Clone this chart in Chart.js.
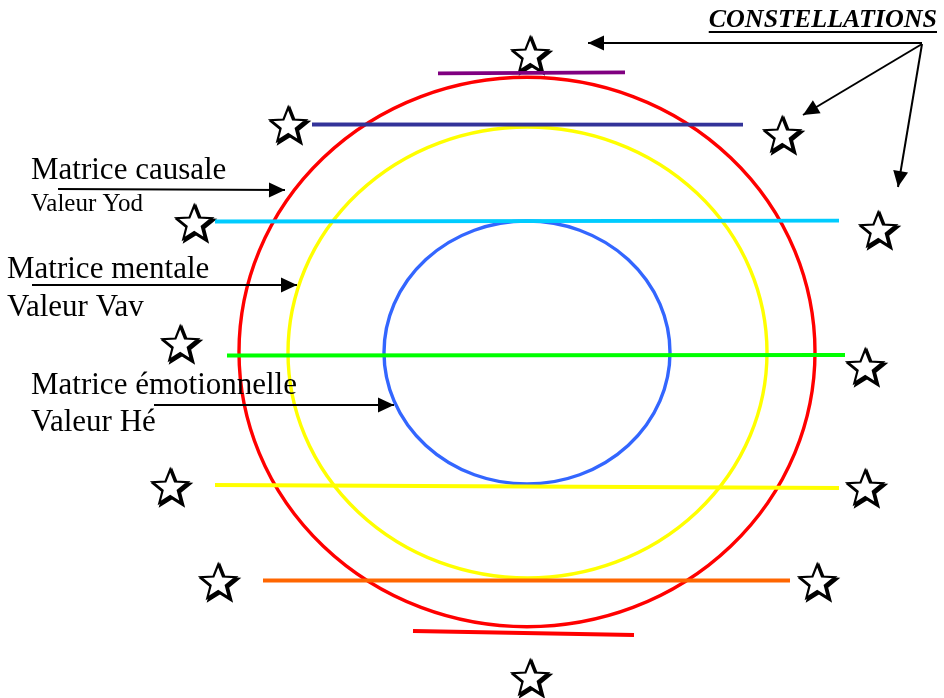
<!DOCTYPE html>
<html>
<head>
<meta charset="utf-8">
<script src="https://cdn.jsdelivr.net/npm/chart.js@4"></script>
<style>
html,body{margin:0;padding:0;background:#fff;}
#wrap{width:944px;height:698px;}
</style>
</head>
<body>
<div id="wrap"><canvas id="c" width="944" height="698"></canvas></div>
<script>
// ---- Diagram data (coordinates in diagram units, 0..944 x 0..698) ----
// Ellipses (matrices): centre x, centre y, radius x, radius y
const ringNames = ['Matrice causale', 'Matrice mentale', 'Matrice émotionnelle'];
const ringCX = [527, 527.5, 527];
const ringCY = [352, 352.5, 352.5];
const ringRX = [288, 239.5, 143];
const ringRY = [274.7, 225.5, 131.5];

// Horizontal coloured levels: start and end points
const levelX1 = [438, 312, 215, 227, 215, 263, 413];
const levelY1 = [73.3, 124.5, 221.5, 355.5, 485, 580.5, 631];
const levelX2 = [625, 743, 839, 845, 839, 790, 634];
const levelY2 = [72.3, 124.7, 220.7, 355, 488, 580.5, 635];

// Stars (constellations)
const starX = [531, 289, 783, 195, 879, 181, 866, 171, 866, 219, 818, 531];
const starY = [55, 125, 135, 223, 230, 344, 367, 487, 488, 582, 582, 678];

// Arrows: from -> to (arrowhead at "to")
const arrowX1 = [922, 922, 922, 58, 32, 154];
const arrowY1 = [43, 44, 44, 189, 285, 405];
const arrowX2 = [588, 803, 898, 285, 297, 394];
const arrowY2 = [43, 115, 187, 190, 285, 405];

// Text labels
const labelTexts = ['Matrice causale', 'Valeur Yod', 'Matrice mentale', 'Valeur Vav', 'Matrice émotionnelle', 'Valeur Hé'];
const labelX = [31, 31, 7, 7, 31, 31];
const labelY = [179, 211, 278, 316, 394, 431];
const titleText = 'CONSTELLATIONS';
const titleX = 937;
const titleY = 27;

// ---- Styles ----
const ringColors = ['#ff0000', '#ffff00', '#3366ff'];
const levelColors = ['#800080', '#333399', '#00ccff', '#00ff00', '#ffff00', '#ff6600', '#ff0000'];
const labelSizes = [31, 25, 31, 31, 31, 31];
const SERIF = '"Liberation Serif", "Times New Roman", serif';

// Star point style image
function makeStar() {
  const s = 50;
  const cv = document.createElement('canvas');
  cv.width = s; cv.height = s;
  const g = cv.getContext('2d');
  const R = 18.4, r = 8.0;
  const cx = s / 2 - 0.8, cy = s / 2 + 0.0955 * R - 0.8;
  function path(ox, oy) {
    g.beginPath();
    for (let i = 0; i < 10; i++) {
      const rad = i % 2 === 0 ? R : r;
      const a = -Math.PI / 2 + i * Math.PI / 5;
      const px = cx + ox + rad * Math.cos(a);
      const py = cy + oy + rad * Math.sin(a);
      if (i === 0) g.moveTo(px, py); else g.lineTo(px, py);
    }
    g.closePath();
  }
  g.lineJoin = 'miter';
  path(1.7, 1.7);
  g.lineWidth = 3.0; g.strokeStyle = '#000'; g.stroke();
  g.fillStyle = '#000'; g.fill();
  path(0, 0);
  g.fillStyle = '#fff'; g.fill();
  g.lineWidth = 2.2; g.strokeStyle = '#000'; g.stroke();
  return cv;
}
const starImg = makeStar();

const datasets = [];
levelX1.forEach((x, i) => {
  datasets.push({
    data: [{x: levelX1[i], y: levelY1[i]}, {x: levelX2[i], y: levelY2[i]}],
    showLine: true, borderColor: levelColors[i], borderWidth: 3.8,
    pointRadius: 0, borderCapStyle: 'butt', kind: 'level'
  });
});
arrowX1.forEach((x, i) => {
  datasets.push({
    data: [{x: arrowX1[i], y: arrowY1[i]}, {x: arrowX2[i], y: arrowY2[i]}],
    showLine: true, borderColor: '#000', borderWidth: 2,
    pointRadius: 0, kind: 'arrow'
  });
});
datasets.push({
  data: starX.map((x, i) => ({x: x, y: starY[i]})),
  showLine: false, pointStyle: starImg, pointRadius: 18, kind: 'star'
});

const ringPlugin = {
  id: 'rings',
  beforeDatasetsDraw(chart) {
    const {ctx, scales: {x, y}} = chart;
    ctx.save();
    ringCX.forEach((cx, i) => {
      const px = x.getPixelForValue(cx), py = y.getPixelForValue(ringCY[i]);
      const rx = Math.abs(x.getPixelForValue(cx + ringRX[i]) - px);
      const ry = Math.abs(y.getPixelForValue(ringCY[i] + ringRY[i]) - py);
      ctx.beginPath();
      ctx.ellipse(px, py, rx, ry, 0, 0, Math.PI * 2);
      ctx.strokeStyle = ringColors[i];
      ctx.lineWidth = 3.4;
      ctx.stroke();
    });
    ctx.restore();
  }
};

const arrowPlugin = {
  id: 'arrowheads',
  afterDatasetsDraw(chart) {
    const {ctx, scales: {x, y}} = chart;
    ctx.save();
    ctx.fillStyle = '#000';
    arrowX1.forEach((_, i) => {
      const x1 = x.getPixelForValue(arrowX1[i]), y1 = y.getPixelForValue(arrowY1[i]);
      const x2 = x.getPixelForValue(arrowX2[i]), y2 = y.getPixelForValue(arrowY2[i]);
      const a = Math.atan2(y2 - y1, x2 - x1);
      const L = 16, Wd = 7.5;
      ctx.beginPath();
      ctx.moveTo(x2, y2);
      ctx.lineTo(x2 - L * Math.cos(a) + Wd * Math.sin(a), y2 - L * Math.sin(a) - Wd * Math.cos(a));
      ctx.lineTo(x2 - L * Math.cos(a) - Wd * Math.sin(a), y2 - L * Math.sin(a) + Wd * Math.cos(a));
      ctx.closePath();
      ctx.fill();
    });
    ctx.restore();
  }
};

const textPlugin = {
  id: 'texts',
  afterDraw(chart) {
    const {ctx, scales: {x, y}} = chart;
    ctx.save();
    ctx.fillStyle = '#000';
    ctx.textBaseline = 'alphabetic';
    ctx.textAlign = 'left';
    labelTexts.forEach((t, i) => {
      ctx.font = labelSizes[i] + 'px ' + SERIF;
      ctx.fillText(t, x.getPixelForValue(labelX[i]), y.getPixelForValue(labelY[i]));
    });
    ctx.font = 'italic bold 26px ' + SERIF;
    ctx.textAlign = 'right';
    const tx = x.getPixelForValue(titleX), ty = y.getPixelForValue(titleY);
    ctx.fillText(titleText, tx, ty);
    const w = ctx.measureText(titleText).width;
    ctx.fillRect(tx - w, ty + 4, w, 2);
    ctx.restore();
  }
};

new Chart(document.getElementById('c'), {
  type: 'scatter',
  data: { datasets: datasets },
  options: {
    responsive: false,
    animation: false,
    devicePixelRatio: 1,
    layout: { padding: 0, autoPadding: false },
    plugins: { legend: { display: false }, tooltip: { enabled: false } },
    scales: {
      x: { type: 'linear', min: 0, max: 944, display: false },
      y: { type: 'linear', min: 0, max: 698, reverse: true, display: false }
    }
  },
  plugins: [ringPlugin, arrowPlugin, textPlugin]
});
</script>
</body>
</html>
